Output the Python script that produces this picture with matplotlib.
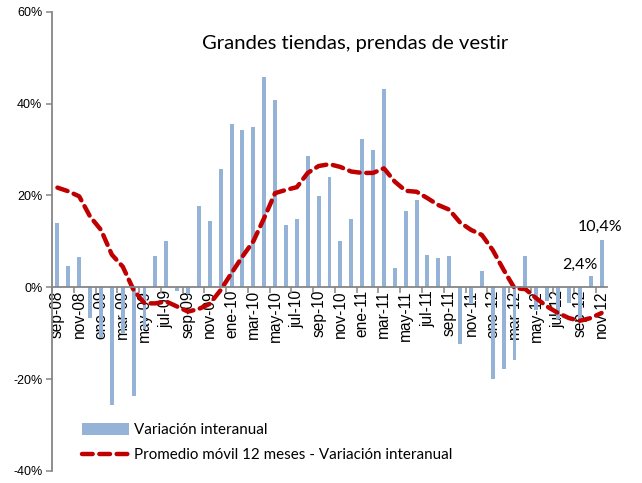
import matplotlib
matplotlib.use("Agg")
import matplotlib.pyplot as plt
from matplotlib.lines import Line2D
from matplotlib.patches import Patch

# Month labels (Spanish abbreviations), sep-2008 .. nov-2012
months = ["sep-08", "oct-08", "nov-08", "dic-08",
          "ene-09", "feb-09", "mar-09", "abr-09", "may-09", "jun-09",
          "jul-09", "ago-09", "sep-09", "oct-09", "nov-09", "dic-09",
          "ene-10", "feb-10", "mar-10", "abr-10", "may-10", "jun-10",
          "jul-10", "ago-10", "sep-10", "oct-10", "nov-10", "dic-10",
          "ene-11", "feb-11", "mar-11", "abr-11", "may-11", "jun-11",
          "jul-11", "ago-11", "sep-11", "oct-11", "nov-11", "dic-11",
          "ene-12", "feb-12", "mar-12", "abr-12", "may-12", "jun-12",
          "jul-12", "ago-12", "sep-12", "oct-12", "nov-12"]

# Year-on-year change (%)
variacion = [13.9, 4.6, 6.5, -6.6,
             -11.0, -25.6, -10.0, -23.7, -9.0, 6.8,
             10.1, -0.9, -1.5, 17.7, 14.5, 25.7,
             35.6, 34.3, 34.9, 45.8, 40.8, 13.5,
             14.8, 28.6, 19.9, 24.0, 10.0, 14.8,
             32.3, 29.9, 43.2, 4.2, 16.6, 18.9,
             7.1, 6.4, 6.8, -12.4, -3.6, 3.6,
             -20.0, -17.8, -15.9, 6.8, -5.0, -3.0,
             -7.0, -3.5, -7.0, 2.4, 10.4]

# 12-month moving average of the year-on-year change (%)
promedio = [21.7, 20.9, 19.8, 15.4,
            12.5, 7.1, 4.5, -0.6, -3.5, -3.5,
            -3.1, -4.2, -5.3, -4.7, -3.6, -0.6,
            3.1, 6.7, 10.0, 15.1, 20.5, 21.2,
            21.8, 24.9, 26.4, 26.8, 26.2, 25.2,
            24.9, 24.9, 25.9, 23.0, 21.0, 20.8,
            19.4, 17.9, 16.9, 14.1, 12.5, 11.4,
            8.1, 3.8, -0.2, -0.4, -2.4, -4.2,
            -5.6, -6.7, -7.3, -6.7, -5.6]

y_ticks = [-40, -20, 0, 20, 40, 60]
y_tick_labels = ["-40%", "-20%", "0%", "20%", "40%", "60%"]

titulo = "Grandes tiendas, prendas de vestir"
serie_barras = "Variación interanual"
serie_linea = "Promedio móvil 12 meses - Variación interanual"

BAR_COLOR = "#95B3D7"
LINE_COLOR = "#C00000"
AXIS_COLOR = "#868686"
TEXT_FONT = ["Lato", "DejaVu Sans"]
TICK_FONT = ["Liberation Sans", "DejaVu Sans"]
LINE_DASHES = (2.4, 1.5)

fig = plt.figure(figsize=(6.42, 4.83), dpi=100)
ax = fig.add_axes([52 / 642, 1 - 471 / 483, 555 / 642, 459.3 / 483])

x = list(range(len(months)))
ax.bar(x, variacion, width=0.36, color=BAR_COLOR, zorder=2)
ax.plot(x, promedio, color=LINE_COLOR, linewidth=3.2,
        dashes=LINE_DASHES, dash_capstyle="round", zorder=3)

ax.set_xlim(-0.5, len(months) - 0.5)
ax.set_ylim(-40, 60)

# Axes: left spine plus the zero line acting as category axis
for side in ("top", "right"):
    ax.spines[side].set_visible(False)
ax.spines["left"].set_color(AXIS_COLOR)
ax.spines["left"].set_linewidth(1.3)
ax.spines["bottom"].set_position(("data", 0))
ax.spines["bottom"].set_color(AXIS_COLOR)
ax.spines["bottom"].set_linewidth(1.3)
ax.spines["bottom"].set_zorder(4)

ax.set_yticks(y_ticks)
ax.set_yticklabels(y_tick_labels, fontfamily=TICK_FONT, fontsize=9)
ax.tick_params(axis="y", direction="out", length=4, width=1.1,
               color=AXIS_COLOR, pad=3)

label_pos = x[::2]
ax.set_xticks(label_pos)
ax.set_xticklabels(months[::2], rotation=90, fontfamily=TICK_FONT,
                   fontsize=11.2, va="top", ha="center")
ax.tick_params(axis="x", which="major", length=0, pad=2)
ax.set_xticks([p - 0.5 for p in label_pos], minor=True)
ax.tick_params(axis="x", which="minor", direction="out", length=4,
               width=1.1, color=AXIS_COLOR)

# Value labels for the last two months
ax.annotate("2,4%", xy=(49, variacion[49]), xytext=(-8, 8),
            textcoords="offset points", ha="center", va="center",
            fontfamily=TEXT_FONT, fontsize=11.5)
ax.annotate("10,4%", xy=(50, variacion[50]), xytext=(-1, 9),
            textcoords="offset points", ha="center", va="center",
            fontfamily=TEXT_FONT, fontsize=11.5)

fig.text(355 / 642, 1 - 43.5 / 483, titulo, ha="center", va="center",
         fontfamily=TEXT_FONT, fontsize=14.6)

handles = [Patch(facecolor=BAR_COLOR, edgecolor="none"),
           Line2D([0], [0], color=LINE_COLOR, linewidth=3.2,
                  dashes=LINE_DASHES, dash_capstyle="round")]
fig.legend(handles, [serie_barras, serie_linea], loc="center left",
           bbox_to_anchor=(82 / 642, 1 - 442.75 / 483),
           frameon=False, prop={"family": TEXT_FONT, "size": 10.9},
           handlelength=3.1, handleheight=0.75, handletextpad=0.33,
           labelspacing=0.72, borderpad=0, borderaxespad=0)

fig.savefig("out.png", dpi=100)
